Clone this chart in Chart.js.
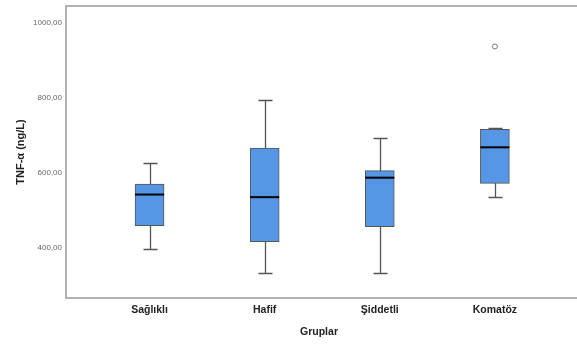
<!DOCTYPE html>
<html>
<head>
<meta charset="utf-8">
<script src="https://cdn.jsdelivr.net/npm/chart.js@4/dist/chart.umd.min.js"></script>
<style>
  html, body { margin: 0; padding: 0; background: #fff; overflow: hidden; }
  canvas { display: block; }
</style>
</head>
<body>
<canvas id="c" width="577" height="345"></canvas>
<script>
// values (ng/L)
const groups = ['Sağlıklı', 'Hafif', 'Şiddetli', 'Komatöz'];
const whiskerLow = [396, 332, 332, 535];
const q1 = [458, 415, 455, 571];
const median = [541, 534, 586, 667];
const q3 = [569, 665, 605, 715];
const whiskerHigh = [626, 792, 691, 719];
const outliers = [[], [], [], [936]];
const yTicks = [400, 600, 800, 1000];

const FONT = "'Liberation Sans', Arial, sans-serif";

// whiskers, caps, medians + the frame round the plot
const boxExtras = {
  id: 'boxExtras',
  beforeDatasetsDraw(chart) {
    const { ctx, scales: { x, y } } = chart;
    ctx.save();
    ctx.strokeStyle = '#555';
    ctx.lineWidth = 1.3;
    groups.forEach((g, i) => {
      const cx = Math.round(x.getPixelForValue(i)) + 0.5;
      const cap = 7;
      ctx.beginPath();
      ctx.moveTo(cx, y.getPixelForValue(whiskerHigh[i]));
      ctx.lineTo(cx, y.getPixelForValue(whiskerLow[i]));
      [whiskerHigh[i], whiskerLow[i]].forEach(v => {
        const py = Math.round(y.getPixelForValue(v)) + 0.5;
        ctx.moveTo(cx - cap, py);
        ctx.lineTo(cx + cap, py);
      });
      ctx.stroke();
    });
    ctx.restore();
  },
  afterDatasetsDraw(chart) {
    const { ctx, chartArea: a, scales: { x, y } } = chart;
    ctx.save();
    ctx.strokeStyle = '#000';
    ctx.lineWidth = 2;
    groups.forEach((g, i) => {
      const cx = x.getPixelForValue(i);
      const py = y.getPixelForValue(median[i]);
      ctx.beginPath();
      ctx.moveTo(cx - 14.5, py);
      ctx.lineTo(cx + 14.5, py);
      ctx.stroke();
    });
    // frame: left, top, bottom
    ctx.strokeStyle = '#9a9a9a';
    ctx.lineWidth = 1.5;
    ctx.beginPath();
    ctx.moveTo(chart.width, a.top);
    ctx.lineTo(a.left, a.top);
    ctx.lineTo(a.left, a.bottom);
    ctx.lineTo(chart.width, a.bottom);
    ctx.stroke();
    ctx.restore();
  }
};

new Chart(document.getElementById('c'), {
  type: 'bar',
  data: {
    datasets: [
      {
        type: 'bar',
        data: groups.map((g, i) => ({ x: i, y: [q1[i], q3[i]] })),
        backgroundColor: '#5596e5',
        borderColor: '#555',
        borderWidth: 1,
        borderSkipped: false,
        barThickness: 29
      },
      {
        type: 'scatter',
        data: outliers.flatMap((list, i) => list.map(v => ({ x: i, y: v }))),
        pointStyle: 'circle',
        pointRadius: 2.5,
        pointBorderWidth: 1,
        pointBorderColor: '#777',
        pointBackgroundColor: '#fff'
      }
    ]
  },
  options: {
    responsive: false,
    devicePixelRatio: 1,
    animation: false,
    layout: { padding: { top: 6, right: 0, left: 0, bottom: 0 } },
    plugins: { legend: { display: false }, tooltip: { enabled: false } },
    scales: {
      x: {
        type: 'linear',
        offset: false,
        min: -0.726,
        max: 3.67,
        afterBuildTicks: s => { s.ticks = groups.map((g, i) => ({ value: i })); },
        afterFit: s => { s.height = 47; s.paddingLeft = 0; s.paddingRight = 0; },
        grid: { display: false, drawTicks: false },
        border: { display: false },
        ticks: {
          padding: 6,
          color: '#222',
          font: { family: FONT, size: 10.5, weight: 'bold' },
          callback: v => groups[v]
        },
        title: {
          display: true,
          text: 'Gruplar',
          color: '#222',
          font: { family: FONT, size: 10.5, weight: 'bold' },
          padding: { top: 0, bottom: 7 }
        }
      },
      y: {
        min: 265,
        max: 1044,
        afterBuildTicks: s => { s.ticks = yTicks.map(v => ({ value: v })); },
        afterFit: s => { s.width = 66; s.paddingTop = 0; s.paddingBottom = 0; },
        grid: { display: false, drawTicks: false },
        border: { display: false },
        ticks: {
          padding: 4,
          color: '#666',
          font: { family: FONT, size: 8 },
          callback: v => v.toFixed(2).replace('.', ',')
        },
        title: {
          display: true,
          text: 'TNF-α (ng/L)',
          color: '#222',
          font: { family: FONT, size: 11, weight: 'bold' },
          padding: { top: 14, bottom: 0 }
        }
      }
    }
  },
  plugins: [boxExtras]
});
</script>
</body>
</html>
